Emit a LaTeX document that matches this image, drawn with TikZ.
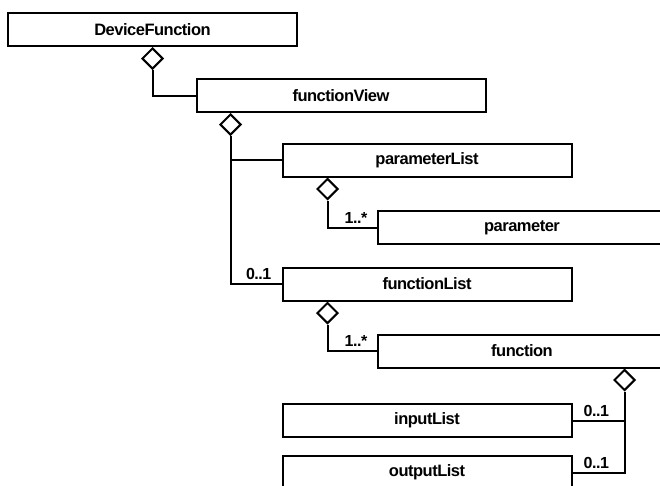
\documentclass[tikz,border=0pt]{standalone}
\usepackage{fontspec}
\setmainfont{Liberation Sans}
\newfontfamily\umlfont[LetterSpace=-3]{Liberation Sans Bold}
\usetikzlibrary{shapes.geometric}
\tikzset{
  cls/.style={draw=black, line width=2pt, fill=white, minimum width=289pt, minimum height=33pt, inner sep=0pt,
    font=\umlfont\fontsize{16.5}{18}\selectfont},
  agg/.style={draw=black, line width=2pt, fill=white, diamond, minimum width=21pt, minimum height=21pt, inner sep=0pt},
  conn/.style={draw=black, line width=2pt},
  mult/.style={inner sep=0pt, font=\umlfont\fontsize{16}{18}\selectfont}
}
\begin{document}
\begin{tikzpicture}[x=1pt, y=-1pt]
\useasboundingbox (0,0) rectangle (660,485);
\fill[white] (0,0) rectangle (660,485);
\clip (0,0) rectangle (660,485);

% classes
\node[cls] (DF) at (152.5,29.5) {DeviceFunction};
\node[cls] (FV) at (341,95.5) {functionView};
\node[cls] (PL) at (427,160) {parameterList};
\node[cls] (P)  at (522,227.5) {parameter};
\node[cls] (FL) at (427,284) {functionList};
\node[cls] (F)  at (522,351) {function};
\node[cls] (IL) at (427,420.5) {inputList};
\node[cls] (OL) at (427,472.5) {outputList};

% aggregation diamonds
\node[agg, anchor=north] (d1) at (DF.south) {};
\node[agg, anchor=north] (d2) at ([xshift=35pt]FV.south west) {};
\node[agg, anchor=north] (d3) at ([xshift=46pt]PL.south west) {};
\node[agg, anchor=north] (d4) at ([xshift=46pt]FL.south west) {};
\node[agg, anchor=north] (d5) at ([xshift=248pt]F.south west) {};

% connectors
\draw[conn] (d1.south) |- (FV.west);
\draw[conn] (d2.south) |- (PL.west);
\draw[conn] (d2.south) |- (FL.west);
\draw[conn] (d3.south) |- (P.west);
\draw[conn] (d4.south) |- (F.west);
\draw[conn] (d5.south) |- (IL.east);
\draw[conn] (d5.south) |- (OL.east);

% multiplicities
\node[mult, anchor=base east] (m1) at ([xshift=-10pt, yshift=5pt]FL.west) {0..1};
\node[mult, anchor=base east] (m2) at ([xshift=-9pt, yshift=4.5pt]P.west) {1..*};
\node[mult, anchor=base east] (m3) at ([xshift=-9pt, yshift=4.5pt]F.west) {1..*};
\node[mult, anchor=base west] (m4) at ([xshift=11pt, yshift=4pt]IL.east) {0..1};
\node[mult, anchor=base west] (m5) at ([xshift=11pt, yshift=4.5pt]OL.east) {0..1};
\end{tikzpicture}
\end{document}
